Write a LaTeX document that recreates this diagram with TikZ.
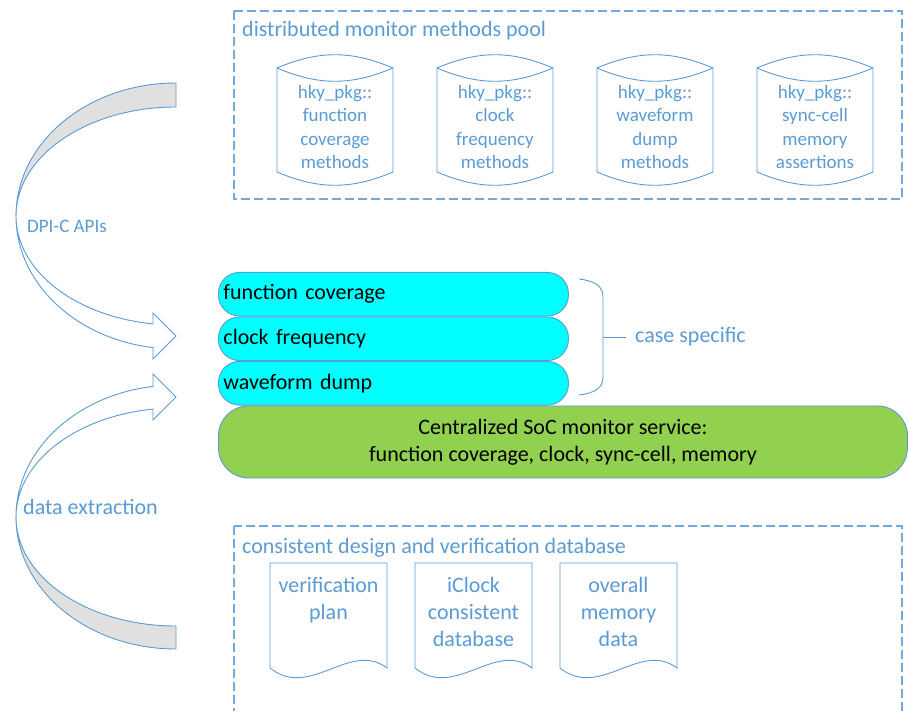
\documentclass[tikz,border=0pt]{standalone}
\usepackage{fontspec}
\setmainfont{Carlito}
\usetikzlibrary{calc, positioning}

\begin{document}
\begin{tikzpicture}[x=1pt,y=-1pt,
  bluetext/.style={text=officeblue,inner sep=0pt},
  bigfont/.style={font=\fontsize{22}{27}\selectfont},
  smallfont/.style={font=\fontsize{19}{23.4}\selectfont},
  poolbox/.style={draw=officeblue!85,line width=1.1pt,dash pattern=on 9pt off 4pt},
  shapeline/.style={draw=officeblue,line width=0.9pt},
  layer/.style={shapeline,fill=layercyan,rounded corners=21pt,minimum height=43.6pt,
    text width=340pt,inner xsep=5pt,inner ysep=0pt,align=left,bigfont},
  service/.style={shapeline,fill=servicegreen,rounded corners=30pt,minimum width=689pt,
    minimum height=72pt,inner sep=0pt,align=center,bigfont}]
\definecolor{officeblue}{HTML}{5B9BD5}
\definecolor{layercyan}{HTML}{00FFFF}
\definecolor{servicegreen}{HTML}{92D050}
\definecolor{backgray}{HTML}{E0E0E0}
\def\cylw{58}
\def\docw{117}
\useasboundingbox (0,0) rectangle (908,711);

\draw[poolbox] (234,11) rectangle (902,199);
\node[bluetext,bigfont,anchor=base west] (pooltitle) at (242,37) {distributed monitor methods pool};
\foreach \cx/\txt [count=\i] in {335/{hky\_pkg::\\function\\coverage\\methods},
    495/{hky\_pkg::\\clock\\frequency\\methods},
    655/{hky\_pkg::\\waveform\\dump\\methods},
    815/{hky\_pkg::\\sync-cell\\memory\\assertions}}{
  \draw[shapeline] (\cx-\cylw,68) to[bend left=23] (\cx+\cylw,68) -- (\cx+\cylw,172)
    to[bend left=23] (\cx-\cylw,172) -- cycle;
  \draw[shapeline] (\cx-\cylw,68) to[bend right=23] (\cx+\cylw,68);
  \node[bluetext,smallfont,align=center] (meth\i) at (\cx,127) {\txt};
}

\node[layer,anchor=north west] (fcov) at (218,272) {function coverage};
\node[layer,below=0pt of fcov] (cfreq) {clock frequency};
\node[layer,below=0pt of cfreq] (wdump) {waveform dump};
\node[service,below=0pt of wdump.south west,anchor=north west] (soc)
  {Centralized SoC monitor service:\\function coverage, clock, sync-cell, memory};

\coordinate (bracetop) at (579,279);
\coordinate (bracebot) at (579,395);
\coordinate (bracemid) at (603,337);
\draw[shapeline] (bracetop) .. controls (596,281) and (603,287) .. (603,297)
  -- (603,377) .. controls (603,387) and (596,393) .. (bracebot);
\node[bluetext,bigfont,anchor=west] (casespec) at (635,337) {case specific};
\draw[shapeline,shorten >=9pt] (bracemid) -- (casespec.west);

\draw[poolbox] (234,526) rectangle (902,720);
\node[bluetext,bigfont,anchor=base west] (dbtitle) at (242,553) {consistent design and verification database};
\foreach \dx/\txt [count=\i] in {270/{verification\\plan},
    415/{iClock\\consistent\\database},
    560/{overall\\memory\\data}}{
  \draw[shapeline] (\dx,563) -- (\dx+\docw,563) -- (\dx+\docw,668)
    .. controls (\dx+80,640) and (\dx+40,700) .. (\dx,668) -- cycle;
  \node[bluetext,bigfont,align=center,anchor=north] (doc\i) at (\dx+58.5,577) {\txt};
}

\draw[shapeline,fill=backgray] (176,83)
  arc[start angle=270,end angle=180,x radius=160,y radius=133]
  arc[start angle=180,end angle=270,x radius=160,y radius=109] -- cycle;
\draw[shapeline,fill=white] (16,216)
  arc[start angle=180,end angle=98.27,x radius=160,y radius=133]
  -- (153,359) -- (176,336) -- (153,313) -- (153,323.9)
  arc[start angle=98.27,end angle=180,x radius=160,y radius=109] -- cycle;
\node[bluetext,smallfont,anchor=west] (dpiapi) at (27,226) {DPI-C APIs};

\draw[shapeline,fill=backgray] (176,649)
  arc[start angle=90,end angle=180,x radius=160,y radius=132]
  arc[start angle=180,end angle=90,x radius=160,y radius=109] -- cycle;
\draw[shapeline,fill=white] (16,517)
  arc[start angle=180,end angle=261.73,x radius=160,y radius=132]
  -- (153,374) -- (176,397) -- (153,420) -- (153,409.1)
  arc[start angle=261.73,end angle=180,x radius=160,y radius=109] -- cycle;
\node[bluetext,bigfont,anchor=west] (extract) at (23,507) {data extraction};
\end{tikzpicture}
\end{document}
